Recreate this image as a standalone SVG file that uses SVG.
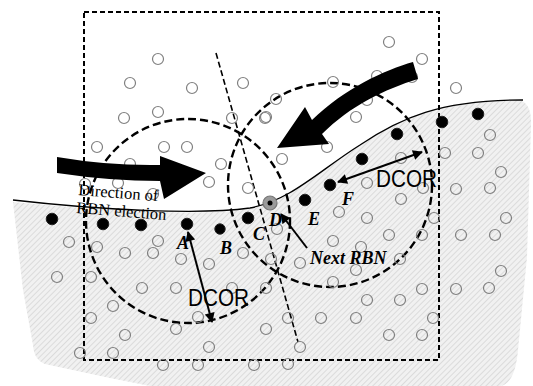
<svg xmlns="http://www.w3.org/2000/svg" width="533" height="386" viewBox="0 0 533 386">
<style>
.n{fill:none;stroke:#808080;stroke-width:1.2}
.b{fill:#000;stroke:#222;stroke-width:1}
.lab{font-family:"Liberation Serif",serif;font-weight:bold;font-style:italic;font-size:18px;fill:#000}
.dcor{font-family:"Liberation Sans",Arial,sans-serif;font-size:24px;fill:#000}
.dir{font-family:"Liberation Serif",serif;font-size:16.5px;fill:#000}
.arr{stroke:#000;stroke-width:2;fill:none}
</style>
<defs>
<pattern id="hatch" width="4" height="4" patternUnits="userSpaceOnUse" patternTransform="rotate(45)">
<rect width="4" height="4" fill="#f1f1f1"/>
<line x1="0" y1="0" x2="0" y2="4" stroke="#d2d2d2" stroke-width="1.4"/>
</pattern>
<marker id="ah" viewBox="0 0 10 10" refX="9" refY="5" markerWidth="5.5" markerHeight="5" orient="auto-start-reverse" markerUnits="strokeWidth">
<path d="M0,0 L10,5 L0,10 Z" fill="#000"/>
</marker>
</defs>
<rect width="533" height="386" fill="#fff"/>
<g id="region">
<path d="M13,202 C100,210 200,217 250,209 C290,201 320,170 360,145 C400,118 440,100 518,100 Q532,102 531,125 L527,257 L518,350 Q515,384 500,386 L150,386 L110,378 L45,364 Q34,360 33,345 L23,290 Z" fill="url(#hatch)"/>
<path d="M13,200 C100,210 200,215 250,208 C290,201 320,170 360,145 C400,118 440,100 523,100" fill="none" stroke="#000" stroke-width="1.3"/>
</g>
<g id="frame">
<rect x="84" y="12" width="355" height="348" fill="none" stroke="#000" stroke-width="2" stroke-dasharray="5,3"/>
<line x1="216" y1="53" x2="298" y2="342" stroke="#000" stroke-width="1.6" stroke-dasharray="6,3"/>
<circle cx="188" cy="221" r="102" fill="none" stroke="#000" stroke-width="2.4" stroke-dasharray="8,4"/>
<circle cx="330" cy="185" r="102" fill="none" stroke="#000" stroke-width="2.4" stroke-dasharray="8,4"/>
</g>
<g id="nodes">
<circle class="n" cx="158" cy="59" r="5.5"/><circle class="n" cx="130" cy="83" r="5.5"/><circle class="n" cx="192" cy="88" r="5.5"/><circle class="n" cx="243" cy="83" r="5.5"/>
<circle class="n" cx="124" cy="118" r="5.5"/><circle class="n" cx="158" cy="112" r="5.5"/><circle class="n" cx="232" cy="118" r="5.5"/><circle class="n" cx="265" cy="118" r="5.5"/>
<circle class="n" cx="97" cy="147" r="5.5"/><circle class="n" cx="164" cy="147" r="5.5"/><circle class="n" cx="187" cy="147" r="5.5"/><circle class="n" cx="130" cy="164" r="5.5"/>
<circle class="n" cx="221" cy="164" r="5.5"/><circle class="n" cx="209" cy="182" r="5.5"/><circle class="n" cx="118" cy="183" r="5.5"/><circle class="n" cx="85" cy="184" r="5.5"/>
<circle class="n" cx="153" cy="194" r="5.5"/><circle class="n" cx="248" cy="188" r="5.5"/>
<circle class="n" cx="389" cy="42" r="5.5"/><circle class="n" cx="422" cy="59" r="5.5"/><circle class="n" cx="377" cy="76" r="5.5"/><circle class="n" cx="412" cy="77" r="5.5"/>
<circle class="n" cx="456" cy="88" r="5.5"/><circle class="n" cx="333" cy="82" r="5.5"/><circle class="n" cx="367" cy="100" r="5.5"/><circle class="n" cx="276" cy="99" r="5.5"/>
<circle class="n" cx="266" cy="117" r="5.5"/><circle class="n" cx="356" cy="117" r="5.5"/><circle class="n" cx="327" cy="147" r="5.5"/><circle class="n" cx="282" cy="159" r="5.5"/>
<circle class="n" cx="490" cy="135" r="5.5"/><circle class="n" cx="445" cy="153" r="5.5"/><circle class="n" cx="478" cy="153" r="5.5"/><circle class="n" cx="401" cy="158" r="5.5"/>
<circle class="n" cx="501" cy="172" r="5.5"/><circle class="n" cx="367" cy="183" r="5.5"/><circle class="n" cx="423" cy="188" r="5.5"/><circle class="n" cx="456" cy="189" r="5.5"/>
<circle class="n" cx="490" cy="188" r="5.5"/><circle class="n" cx="401" cy="199" r="5.5"/>
<circle class="n" cx="339" cy="212" r="5.5"/><circle class="n" cx="367" cy="218" r="5.5"/><circle class="n" cx="434" cy="218" r="5.5"/><circle class="n" cx="506" cy="218" r="5.5"/>
<circle class="n" cx="277" cy="229" r="5.5"/><circle class="n" cx="389" cy="235" r="5.5"/><circle class="n" cx="422" cy="235" r="5.5"/><circle class="n" cx="461" cy="235" r="5.5"/>
<circle class="n" cx="495" cy="235" r="5.5"/><circle class="n" cx="333" cy="241" r="5.5"/><circle class="n" cx="361" cy="247" r="5.5"/><circle class="n" cx="271" cy="259" r="5.5"/>
<circle class="n" cx="300" cy="263" r="5.5"/><circle class="n" cx="400" cy="259" r="5.5"/><circle class="n" cx="356" cy="270" r="5.5"/><circle class="n" cx="501" cy="271" r="5.5"/>
<circle class="n" cx="266" cy="288" r="5.5"/><circle class="n" cx="333" cy="282" r="5.5"/><circle class="n" cx="422" cy="289" r="5.5"/><circle class="n" cx="456" cy="289" r="5.5"/>
<circle class="n" cx="489" cy="288" r="5.5"/><circle class="n" cx="367" cy="300" r="5.5"/><circle class="n" cx="400" cy="300" r="5.5"/><circle class="n" cx="288" cy="318" r="5.5"/>
<circle class="n" cx="321" cy="318" r="5.5"/><circle class="n" cx="356" cy="318" r="5.5"/><circle class="n" cx="433" cy="318" r="5.5"/><circle class="n" cx="266" cy="329" r="5.5"/>
<circle class="n" cx="389" cy="335" r="5.5"/><circle class="n" cx="422" cy="335" r="5.5"/><circle class="n" cx="300" cy="347" r="5.5"/><circle class="n" cx="288" cy="364" r="5.5"/>
<circle class="n" cx="69" cy="242" r="5.5"/><circle class="n" cx="97" cy="247" r="5.5"/><circle class="n" cx="158" cy="241" r="5.5"/><circle class="n" cx="125" cy="253" r="5.5"/>
<circle class="n" cx="153" cy="253" r="5.5"/><circle class="n" cx="181" cy="259" r="5.5"/><circle class="n" cx="243" cy="253" r="5.5"/><circle class="n" cx="209" cy="264" r="5.5"/>
<circle class="n" cx="57" cy="277" r="5.5"/><circle class="n" cx="91" cy="277" r="5.5"/><circle class="n" cx="142" cy="288" r="5.5"/><circle class="n" cx="176" cy="288" r="5.5"/>
<circle class="n" cx="232" cy="288" r="5.5"/><circle class="n" cx="113" cy="306" r="5.5"/><circle class="n" cx="91" cy="318" r="5.5"/><circle class="n" cx="198" cy="317" r="5.5"/>
<circle class="n" cx="125" cy="335" r="5.5"/><circle class="n" cx="176" cy="329" r="5.5"/><circle class="n" cx="209" cy="347" r="5.5"/><circle class="n" cx="80" cy="353" r="5.5"/>
<circle class="n" cx="113" cy="353" r="5.5"/><circle class="n" cx="163" cy="365" r="5.5"/><circle class="n" cx="198" cy="365" r="5.5"/><circle class="n" cx="254" cy="365" r="5.5"/>
</g>
<g id="rbn-nodes">
<circle class="b" cx="52" cy="219" r="5.8"/>
<circle class="b" cx="103" cy="224" r="5.8"/>
<circle class="b" cx="141" cy="225" r="5.8"/>
<circle class="b" cx="187" cy="224" r="5.8"/>
<circle class="b" cx="220" cy="229" r="5.2"/>
<circle class="b" cx="248" cy="218" r="5.8"/>
<circle class="b" cx="305" cy="200" r="5.8"/>
<circle class="b" cx="330" cy="185" r="5.8"/>
<circle class="b" cx="362" cy="159" r="5.8"/>
<circle class="b" cx="397" cy="134" r="5.8"/>
<circle class="b" cx="442" cy="122" r="5.8"/>
<circle class="b" cx="478" cy="114" r="5.8"/>
</g>
<g id="node-D">
<circle cx="270" cy="203" r="7" fill="#9a9a9a" stroke="#777" stroke-width="1.2"/>
<circle cx="270" cy="203" r="2.5" fill="#000"/>
</g>
<g id="big-arrows">
<path d="M57,157 Q110,166 160,165 L160,156 L206,173 L164,199 L160,181 Q110,181 57,173 Z" fill="#000"/>
<path d="M413,62 C385,70 345,88 312,120 L305,107 L277,148 L329,144 L322,134 C350,106 385,89 418,79 Z" fill="#000"/>
</g>
<g id="connectors">
<line class="arr" x1="338" y1="182" x2="422" y2="152" marker-start="url(#ah)" marker-end="url(#ah)"/>
<line class="arr" x1="188" y1="232" x2="212" y2="322" marker-start="url(#ah)" marker-end="url(#ah)"/>
<line class="arr" x1="307" y1="248" x2="281" y2="214" marker-end="url(#ah)"/>
</g>
<g id="labels">
<text class="lab" x="177" y="249">A</text>
<text class="lab" x="220" y="254">B</text>
<text class="lab" x="253" y="240">C</text>
<text class="lab" x="269" y="226">D</text>
<text class="lab" x="308" y="225">E</text>
<text class="lab" x="342" y="205">F</text>
<text class="lab" x="310" y="264">Next RBN</text>
<text class="dcor" x="376" y="187" textLength="61" lengthAdjust="spacingAndGlyphs">DCOR</text>
<text class="dcor" x="188" y="306" textLength="61" lengthAdjust="spacingAndGlyphs">DCOR</text>
<text class="dir" x="78" y="195" transform="rotate(4.5 78 195)">Direction of</text>
<text class="dir" x="76" y="213" transform="rotate(4.5 76 213)">RBN election</text>
</g>
</svg>
